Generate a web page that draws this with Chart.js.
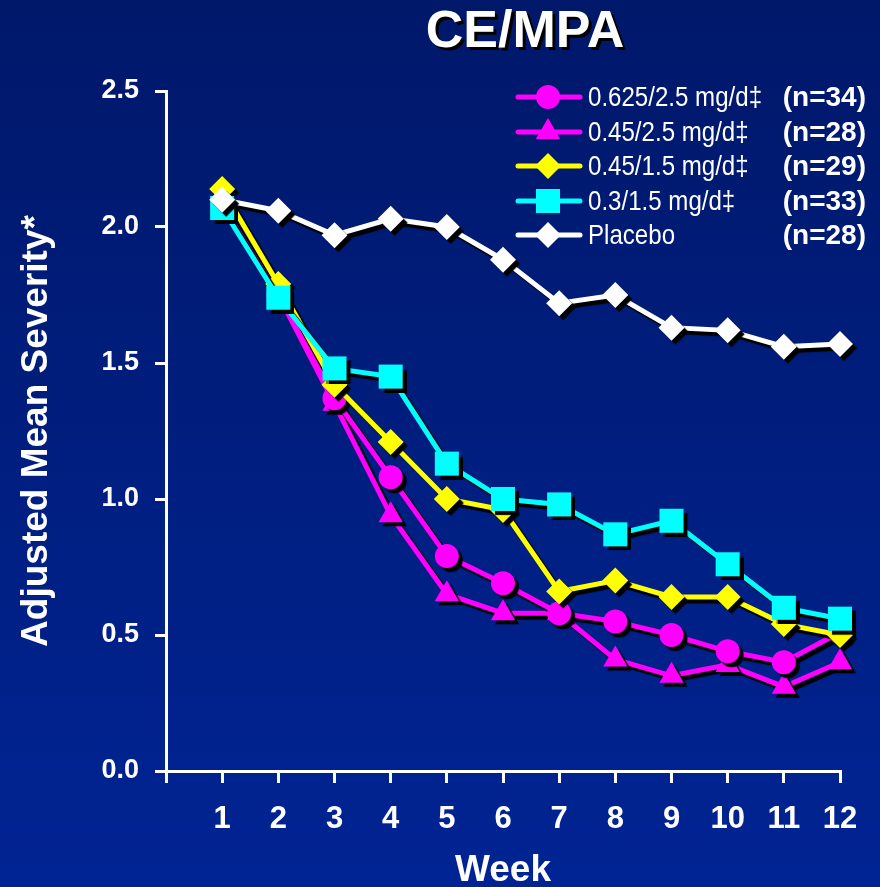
<!DOCTYPE html>
<html>
<head>
<meta charset="utf-8">
<script src="https://cdn.jsdelivr.net/npm/chart.js@4/dist/chart.umd.min.js"></script>
<style>
  html, body { margin: 0; padding: 0; }
  #wrap { width: 880px; height: 887px; }
</style>
</head>
<body>
<div id="wrap"><canvas id="severityChart"></canvas></div>
<script>
// weekly adjusted mean severity per treatment group
const weeks = [1, 2, 3, 4, 5, 6, 7, 8, 9, 10, 11, 12];
const dose0625 = [2.08, 1.75, 1.37, 1.08, 0.79, 0.69, 0.58, 0.55, 0.50, 0.44, 0.40, 0.51];
const dose045hi = [2.08, 1.75, 1.35, 0.94, 0.65, 0.58, 0.58, 0.41, 0.35, 0.39, 0.31, 0.40];
const dose045lo = [2.14, 1.79, 1.42, 1.21, 1.00, 0.96, 0.66, 0.70, 0.64, 0.64, 0.54, 0.50];
const dose03 = [2.07, 1.74, 1.48, 1.45, 1.13, 1.00, 0.98, 0.87, 0.92, 0.76, 0.60, 0.56];
const placebo = [2.10, 2.06, 1.97, 2.03, 2.00, 1.88, 1.72, 1.75, 1.63, 1.62, 1.56, 1.57];

const groupLabels = ['0.625/2.5 mg/d\u2021', '0.45/2.5 mg/d\u2021', '0.45/1.5 mg/d\u2021', '0.3/1.5 mg/d\u2021', 'Placebo'];
const groupSizes = ['(n=34)', '(n=28)', '(n=29)', '(n=33)', '(n=28)'];
const yTicks = [0, 0.5, 1.0, 1.5, 2.0, 2.5];

const toPoints = vals => vals.map((v, i) => ({ x: weeks[i], y: v }));

function series(label, vals, color, style, radius, order) {
    return {
        label: label,
        data: toPoints(vals),
        borderColor: color,
        backgroundColor: color,
        pointBackgroundColor: color,
        pointBorderColor: color,
        pointBorderWidth: 0,
        pointStyle: style,
        pointRadius: radius,
        pointHoverRadius: radius,
        borderWidth: 5,
        tension: 0,
        clip: false,
        order: order
    };
}

const datasets = [
    series(groupLabels[0], dose0625, '#ff00ff', 'circle', 12, 3),
    series(groupLabels[1], dose045hi, '#ff00ff', 'triangle', 14, 4),
    series(groupLabels[2], dose045lo, '#ffff00', 'rectRot', 13, 2),
    series(groupLabels[3], dose03, '#00ffff', 'rect', 17, 1),
    series(groupLabels[4], placebo, '#ffffff', 'rectRot', 13, 0)
];

const FONT = '"Liberation Sans", Arial, sans-serif';

// navy gradient behind everything
const backdrop = {
    id: 'backdrop',
    beforeDraw(chart) {
        const ctx = chart.ctx;
        const g = ctx.createLinearGradient(0, 0, 0, chart.height);
        g.addColorStop(0, '#00186a');
        g.addColorStop(1, '#002494');
        ctx.save();
        ctx.fillStyle = g;
        ctx.fillRect(0, 0, chart.width, chart.height);
        ctx.restore();
    }
};

// hard black drop shadow under the lines and markers
const dropShadow = {
    id: 'dropShadow',
    beforeDatasetsDraw(chart) {
        const ctx = chart.ctx;
        ctx.save();
        ctx.shadowColor = '#000000';
        ctx.shadowOffsetX = 4;
        ctx.shadowOffsetY = 4;
        ctx.shadowBlur = 1;
    },
    afterDatasetsDraw(chart) {
        chart.ctx.restore();
    }
};

// heading and the key in the top right
const overlay = {
    id: 'overlay',
    afterDraw(chart) {
        const ctx = chart.ctx;
        ctx.save();
        ctx.font = 'bold 52px ' + FONT;
        ctx.textAlign = 'center';
        ctx.textBaseline = 'alphabetic';
        ctx.fillStyle = '#000000';
        ctx.fillText('CE/MPA', 528, 50);
        ctx.fillStyle = '#ffffff';
        ctx.fillText('CE/MPA', 525, 47);

        const rowY = [97, 132, 166, 201, 235];
        chart.data.datasets.forEach((ds, idx) => {
            const y = rowY[idx];
            ctx.strokeStyle = ds.borderColor;
            ctx.lineWidth = 5;
            ctx.lineCap = 'round';
            ctx.beginPath();
            ctx.moveTo(518, y);
            ctx.lineTo(580, y);
            ctx.stroke();
            ctx.fillStyle = ds.backgroundColor;
            Chart.helpers.drawPoint(ctx, {
                pointStyle: ds.pointStyle,
                radius: ds.pointRadius,
                borderWidth: 0,
                rotation: 0
            }, 548, y);
            ctx.fillStyle = '#ffffff';
            ctx.textBaseline = 'middle';
            // condensed label text
            ctx.save();
            ctx.translate(588, y + 1);
            ctx.scale(0.86, 1);
            ctx.textAlign = 'left';
            ctx.font = '28px ' + FONT;
            ctx.fillText(ds.label, 0, 0);
            ctx.restore();
            ctx.textAlign = 'right';
            ctx.font = 'bold 28px ' + FONT;
            ctx.fillText(groupSizes[idx], 866, y + 1);
        });
        ctx.restore();
    }
};

new Chart(document.getElementById('severityChart').getContext('2d'), {
    type: 'line',
    data: { datasets: datasets },
    options: {
        responsive: true,
        maintainAspectRatio: false,
        animation: false,
        layout: { padding: { top: 91, right: 40, bottom: 0, left: 0 } },
        plugins: {
            legend: { display: false },
            tooltip: { enabled: false }
        },
        scales: {
            x: {
                type: 'linear',
                min: 0,
                max: 12,
                afterFit(scale) { scale.height = 116; },
                afterBuildTicks(scale) {
                    scale.ticks = [0].concat(weeks).map(v => ({ value: v }));
                },
                ticks: {
                    color: '#ffffff',
                    font: { family: FONT, size: 31, weight: 'bold' },
                    padding: 18,
                    maxRotation: 0,
                    autoSkip: false,
                    callback: v => (v === 0 ? '' : String(v))
                },
                grid: {
                    drawOnChartArea: false,
                    color: '#ffffff',
                    lineWidth: 3,
                    tickLength: 12
                },
                border: { color: '#ffffff', width: 3 },
                title: {
                    display: true,
                    text: 'Week',
                    color: '#ffffff',
                    font: { family: FONT, size: 37, weight: 'bold', lineHeight: 1 },
                    padding: { top: 0, bottom: -2 }
                }
            },
            y: {
                min: 0,
                max: 2.5,
                afterFit(scale) { scale.width = 166; },
                afterBuildTicks(scale) {
                    scale.ticks = yTicks.map(v => ({ value: v }));
                },
                ticks: {
                    color: '#ffffff',
                    font: { family: FONT, size: 27, weight: 'bold' },
                    padding: 16,
                    callback: v => v.toFixed(1)
                },
                grid: {
                    drawOnChartArea: false,
                    color: '#ffffff',
                    lineWidth: 3,
                    tickLength: 11
                },
                border: { color: '#ffffff', width: 3 },
                title: {
                    display: true,
                    text: 'Adjusted Mean Severity*',
                    color: '#ffffff',
                    font: { family: FONT, size: 37, weight: 'bold', lineHeight: 1 },
                    padding: { top: 18, bottom: 0 }
                }
            }
        }
    },
    plugins: [backdrop, dropShadow, overlay]
});
</script>
</body>
</html>
